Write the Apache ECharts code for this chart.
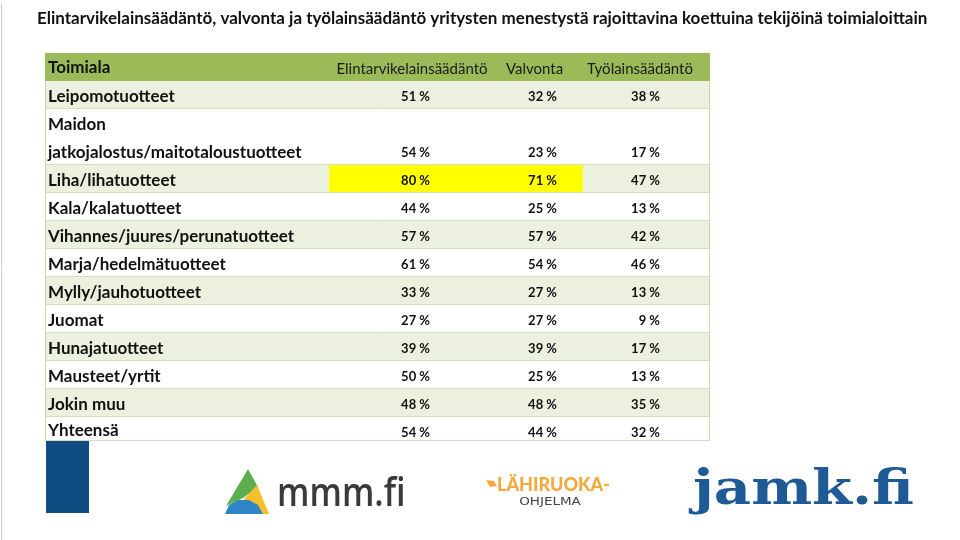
<!DOCTYPE html>
<html><head><meta charset="utf-8">
<script src="https://cdn.jsdelivr.net/npm/echarts@6/dist/echarts.min.js"></script>
<style>html,body{margin:0;padding:0;background:#fff}#c{width:960px;height:540px}</style>
</head><body><div id="c"></div>
<script>
// ---------- data ----------
const chartTitle = 'Elintarvikelainsäädäntö, valvonta ja työlainsäädäntö yritysten menestystä rajoittavina koettuina tekijöinä toimialoittain';
const headers = ['Toimiala', 'Elintarvikelainsäädäntö', 'Valvonta', 'Työlainsäädäntö'];
const categories = [
  'Leipomotuotteet',
  'Maidon\njatkojalostus/maitotaloustuotteet',
  'Liha/lihatuotteet',
  'Kala/kalatuotteet',
  'Vihannes/juures/perunatuotteet',
  'Marja/hedelmätuotteet',
  'Mylly/jauhotuotteet',
  'Juomat',
  'Hunajatuotteet',
  'Mausteet/yrtit',
  'Jokin muu',
  'Yhteensä'
];
const elintarvikelainsaadanto = [51, 54, 80, 44, 57, 61, 33, 27, 39, 50, 48, 54];
const valvonta               = [32, 23, 71, 25, 57, 54, 27, 27, 39, 25, 48, 44];
const tyolainsaadanto        = [38, 17, 47, 13, 42, 46, 13,  9, 17, 13, 35, 32];
const highlightFrom = 70;

// ---------- layout ----------
const valueSeries = [elintarvikelainsaadanto, valvonta, tyolainsaadanto];
const FONT = 'Lato, "Open Sans", sans-serif';
const TABLE_W = 665;
const colEdges = [0, 284, 411, 538, 665];
const valueRight = [385, 512, 615];
const headerCenter = [367, 489.5, 595];
const Y_MAX = 388 / 28;
const lines = categories.map(c => c.split('\n').length);
const rowStart = [];
(function(){ let acc = 1; lines.forEach(n => { rowStart.push(acc); acc += n; }); })();

function renderRow(params, api) {
  const i = api.value(0);
  const y0 = rowStart[i];
  const y1 = Math.min(y0 + lines[i], Y_MAX);
  const tl = api.coord([0, y0]);
  const br = api.coord([TABLE_W, y1]);
  const unit = api.size([0, 1])[1];
  const h = br[1] - tl[1];
  const ch = [];
  ch.push({type: 'rect', shape: {x: tl[0], y: tl[1], width: br[0] - tl[0], height: h},
    style: {fill: i % 2 === 0 ? '#EBF1DE' : '#FFFFFF'}});
  valueSeries.forEach((arr, k) => {
    if (arr[i] >= highlightFrom) {
      const a = api.coord([colEdges[k + 1], y0]);
      const b = api.coord([colEdges[k + 2], y0]);
      ch.push({type: 'rect', shape: {x: a[0], y: tl[1], width: b[0] - a[0], height: h}, style: {fill: '#FFFF00'}});
    }
  });
  ch.push({type: 'line', shape: {x1: tl[0], y1: br[1] - 0.5, x2: br[0], y2: br[1] - 0.5}, style: {stroke: '#D3DFBD', lineWidth: 1}});
  ch.push({type: 'line', shape: {x1: tl[0] + 0.5, y1: tl[1], x2: tl[0] + 0.5, y2: br[1]}, style: {stroke: '#C9D9AA', lineWidth: 1}});
  ch.push({type: 'line', shape: {x1: br[0] - 0.5, y1: tl[1], x2: br[0] - 0.5, y2: br[1]}, style: {stroke: '#C9D9AA', lineWidth: 1}});
  ch.push({type: 'text', style: {text: categories[i], x: tl[0] + 3, y: tl[1] + h / 2 + 2,
    fill: '#111', fontFamily: FONT, fontWeight: 'bold', fontSize: 17, lineHeight: unit,
    textAlign: 'left', textVerticalAlign: 'middle'}});
  const vy = api.coord([0, y0 + lines[i] - 0.5])[1] + 2;
  valueSeries.forEach((arr, k) => {
    const p = api.coord([valueRight[k], y0]);
    ch.push({type: 'text', style: {text: arr[i] + ' %', x: p[0], y: vy,
      fill: '#111', fontFamily: FONT, fontWeight: 'bold', fontSize: 13,
      textAlign: 'right', textVerticalAlign: 'middle'}});
  });
  return {type: 'group', children: ch};
}

function renderHeader(params, api) {
  const tl = api.coord([0, 0]);
  const br = api.coord([TABLE_W, 1]);
  const h = br[1] - tl[1];
  const ch = [];
  ch.push({type: 'rect', shape: {x: tl[0], y: tl[1], width: br[0] - tl[0], height: h}, style: {fill: '#9BBB59'}});
  ch.push({type: 'text', style: {text: headers[0], x: tl[0] + 3, y: tl[1] + h / 2 + 1,
    fill: '#111', fontFamily: FONT, fontWeight: 'bold', fontSize: 17, textAlign: 'left', textVerticalAlign: 'middle'}});
  for (let k = 1; k < headers.length; k++) {
    const p = api.coord([headerCenter[k - 1], 0]);
    ch.push({type: 'text', style: {text: headers[k], x: p[0], y: tl[1] + h / 2 + 2,
      fill: '#1a1a1a', fontFamily: FONT, fontSize: 15, textAlign: 'center', textVerticalAlign: 'middle'}});
  }
  return {type: 'group', children: ch};
}

const chart = echarts.init(document.getElementById('c'), null, {renderer: 'canvas'});
chart.setOption({
  animation: false,
  backgroundColor: '#ffffff',
  title: {
    text: chartTitle, left: 32, top: 5,
    textStyle: {fontFamily: FONT, fontWeight: 'bold', fontSize: 17, color: '#111'}
  },
  grid: {left: 45, top: 53, width: TABLE_W, height: 388, containLabel: false},
  xAxis: {type: 'value', min: 0, max: TABLE_W, show: false},
  yAxis: {type: 'value', min: 0, max: Y_MAX, inverse: true, show: false},
  series: [
    {type: 'custom', name: 'header', renderItem: renderHeader, data: [[0]], silent: true},
    {type: 'custom', name: 'rows', renderItem: renderRow, data: categories.map((c, i) => [i]), silent: true}
  ],
  graphic: [
    {type: 'line', shape: {x1: 1.5, y1: 3, x2: 1.5, y2: 540}, style: {stroke: '#D0D0D0', lineWidth: 1}},
    {type: 'rect', shape: {x: 46, y: 441, width: 43, height: 72}, style: {fill: '#0F4C81'}},
    // mmm.fi logo
    {type: 'polygon', shape: {points: [[248, 469], [258, 487], [243, 498], [226, 506]]}, style: {fill: '#5DAF4E'}},
    {type: 'polygon', shape: {points: [[257, 485], [269, 514], [259, 514], [244, 499]]}, style: {fill: '#F6C02B'}},
    {type: 'polygon', shape: {points: [[225, 514], [229, 505], [238, 500], [249, 500], [258, 505], [263, 514]]}, style: {fill: '#2E86C8'}},
    {type: 'text', scaleY: 1.15, originX: 277, originY: 514, style: {text: 'mmm.fi', x: 277, y: 514, fill: '#3A3A3A', fontFamily: '"Open Sans", sans-serif', fontWeight: 600, fontSize: 34, textAlign: 'left', textVerticalAlign: 'bottom'}},
    // Lähiruoka logo
    {type: 'polygon', shape: {points: [[486, 480], [494, 481], [497, 486], [490, 487]]}, style: {fill: '#F3A93C'}},
    {type: 'text', style: {text: 'LÄHIRUOKA-', x: 497, y: 494, fill: '#F3A93C', fontFamily: FONT, fontWeight: 900, fontSize: 18, textAlign: 'left', textVerticalAlign: 'bottom'}},
    {type: 'text', scaleX: 1.35, originX: 550, originY: 502, style: {text: 'OHJELMA', x: 550, y: 502, fill: '#444', fontFamily: '"DejaVu Sans", sans-serif', fontSize: 10, textAlign: 'center', textVerticalAlign: 'middle'}},
    // jamk.fi logo
    {type: 'text', scaleX: 1.2, originX: 693, originY: 492, style: {text: 'jamk.fi', x: 693, y: 492, fill: '#1E5A96', fontFamily: '"DejaVu Serif", serif', fontWeight: 'bold', fontSize: 48, textAlign: 'left', textVerticalAlign: 'middle'}}
  ]
});
</script>
</body></html>
